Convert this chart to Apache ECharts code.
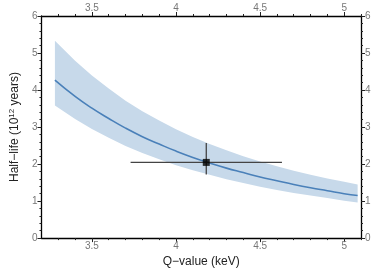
<!DOCTYPE html>
<html><head><meta charset="utf-8">
<script src="https://cdn.jsdelivr.net/npm/echarts@6/dist/echarts.min.js"></script>
<style>html,body{margin:0;padding:0;background:#fff}#c{width:374px;height:273px}</style>
</head><body><div id="c"></div>
<script>
const qValues   = [3.28, 3.4, 3.5, 3.6, 3.7, 3.8, 3.9, 4.0, 4.1, 4.2, 4.3, 4.4, 4.5, 4.6, 4.7, 4.8, 4.9, 5.0, 5.08];
const halfLife  = [4.27, 3.83, 3.51, 3.23, 2.97, 2.74, 2.54, 2.35, 2.18, 2.03, 1.89, 1.77, 1.65, 1.55, 1.45, 1.36, 1.28, 1.20, 1.15];
const bandUpper = [5.33, 4.79, 4.39, 4.04, 3.71, 3.43, 3.18, 2.94, 2.73, 2.54, 2.37, 2.21, 2.07, 1.94, 1.82, 1.71, 1.61, 1.52, 1.45];
const bandLower = [3.58, 3.22, 2.95, 2.71, 2.49, 2.30, 2.13, 1.97, 1.83, 1.71, 1.59, 1.49, 1.39, 1.30, 1.22, 1.15, 1.08, 1.01, 0.96];
const measQ = 4.18, measQLow = 3.73, measQHigh = 4.63;
const measT = 2.045, measTLow = 1.72, measTHigh = 2.57;
const xTicks = [3.5, 4, 4.5, 5];
const xMinorTicks = [3.3,3.4,3.6,3.7,3.8,3.9,4.1,4.2,4.3,4.4,4.6,4.7,4.8,4.9,5.1];

const chart = echarts.init(document.getElementById('c'));
const font = 'Liberation Sans, Arial, sans-serif';
const lblColor = '#777';
function xAx(pos, labels, ticks, len, show){
  return {type:'value', position:pos, min:3.2, max:5.1, gridIndex:0,
    axisLine:{show:show, onZero:false, lineStyle:{color:'#000', width:1.3}},
    axisTick:{show:true, customValues:ticks, length:len, inside:false, lineStyle:{color:'#222', width:1}},
    axisLabel:{show:labels, customValues:ticks, fontFamily:font, fontSize:10, color:lblColor, margin:3, formatter:v=>String(v)},
    splitLine:{show:false}};
}
function yAx(pos, labels){
  return {type:'value', position:pos, min:0, max:6, interval:1,
    axisLine:{show:true, onZero:false, lineStyle:{color:'#000', width:1.3}},
    axisTick:{show:true, length:4, lineStyle:{color:'#222', width:1}},
    minorTick:{show:true, splitNumber:5, length:2, lineStyle:{color:'#222', width:1}},
    axisLabel:{show:labels, fontFamily:font, fontSize:10, color:lblColor, margin:4},
    splitLine:{show:false}};
}
const xb = xAx('bottom', true, xTicks, 4, true);
xb.name = 'Q\u2212value (keV)'; xb.nameLocation='middle'; xb.nameGap=17;
xb.nameTextStyle = {fontFamily:font, fontSize:12, color:'#222'};
const yl = yAx('left', true);
yl.name = 'Half\u2212life (10{s|12} years)'; yl.nameLocation='middle'; yl.nameGap=19;
yl.nameTextStyle = {fontFamily:font, fontSize:12, color:'#222', rich:{s:{fontSize:8, verticalAlign:'top', padding:[0,0,6,0], fontFamily:font, color:'#222'}}};

chart.setOption({
  animation:false,
  grid:{left:32, right:13, top:16, bottom:30},
  xAxis:[xb, xAx('top', true, xTicks, 4, true), xAx('bottom', false, xMinorTicks, 2, false), xAx('top', false, xMinorTicks, 2, false)],
  yAxis:[yl, yAx('right', true)],
  series:[
    {type:'custom', xAxisIndex:0, yAxisIndex:0, silent:true, data:[[qValues[0], bandUpper[0]]], z:1,
     renderItem:function(params, api){
       const pts = [];
       for (let i=0;i<qValues.length;i++) pts.push(api.coord([qValues[i], bandUpper[i]]));
       for (let i=qValues.length-1;i>=0;i--) pts.push(api.coord([qValues[i], bandLower[i]]));
       return {type:'polygon', shape:{points:pts, smooth:0}, style:{fill:'#c7d9ea', stroke:null}};
     }},
    {type:'line', xAxisIndex:0, yAxisIndex:0, symbol:'none', smooth:true, z:2,
     lineStyle:{color:'#4a80b9', width:1.6}, data:qValues.map((q,i)=>[q,halfLife[i]])},
    {type:'line', xAxisIndex:0, yAxisIndex:0, symbol:'none', lineStyle:{color:'#444', width:1.3}, z:3,
     data:[[measQLow,measT],[measQHigh,measT]]},
    {type:'line', xAxisIndex:0, yAxisIndex:0, symbol:'none', lineStyle:{color:'#444', width:1.3}, z:3,
     data:[[measQ,measTLow],[measQ,measTHigh]]},
    {type:'scatter', xAxisIndex:0, yAxisIndex:0, symbol:'rect', symbolSize:7,
     itemStyle:{color:'#000'}, data:[[measQ,measT]], z:5}
  ]
});
</script></body></html>
